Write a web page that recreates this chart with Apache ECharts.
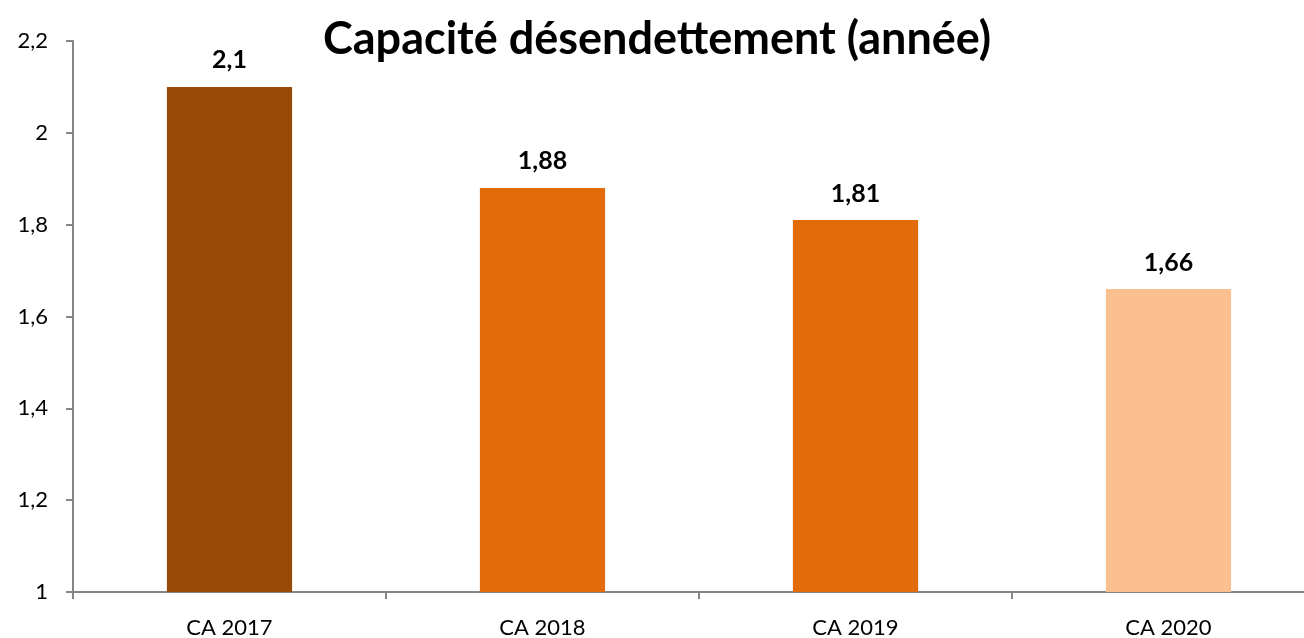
<!DOCTYPE html>
<html>
<head>
<meta charset="utf-8">
<script src="https://cdn.jsdelivr.net/npm/echarts@6/dist/echarts.min.js"></script>
<style>
  html, body { margin: 0; padding: 0; background: #fff; }
  #main { width: 1304px; height: 638px; }
</style>
</head>
<body>
<div id="main"></div>
<script>
var categories = ["CA 2017", "CA 2018", "CA 2019", "CA 2020"];
var values = [2.1, 1.88, 1.81, 1.66];
var barColors = ["#984807", "#E36C0A", "#E36C0A", "#FAC090"];

var font = "Lato, 'Open Sans', sans-serif";

var myChart = echarts.init(document.getElementById("main"));

var option = {
  animation: false,
  title: {
    text: "Capacité désendettement (année)",
    left: 318,
    top: 12,
    textStyle: { fontFamily: font, fontSize: 45, fontWeight: "bold", color: "#000" }
  },
  // the plot runs past the right edge of the picture, like the reference
  grid: { left: 73, width: 1252, top: 41, bottom: 46, outerBoundsMode: "none", containLabel: false },
  xAxis: {
    type: "category",
    data: categories,
    axisLine: { lineStyle: { color: "#868686", width: 2 } },
    axisTick: { show: true, length: 7, lineStyle: { color: "#868686", width: 2 } },
    axisLabel: { color: "#000", fontFamily: font, fontSize: 22, margin: 25 }
  },
  yAxis: {
    type: "value",
    min: 1,
    max: 2.2,
    interval: 0.2,
    splitLine: { show: false },
    axisLine: { show: true, lineStyle: { color: "#868686", width: 2 } },
    axisTick: { show: true, length: 7, lineStyle: { color: "#868686", width: 2 } },
    axisLabel: {
      color: "#000", fontFamily: font, fontSize: 22, margin: 25,
      formatter: function (v) { return String(Math.round(v * 10) / 10).replace(".", ","); }
    }
  },
  series: [{
    type: "bar",
    barWidth: "40%",
    data: values.map(function (v, i) {
      return { value: v, itemStyle: { color: barColors[i] } };
    }),
    label: {
      show: true,
      position: "top",
      distance: 14,
      color: "#000",
      fontFamily: font,
      fontSize: 25,
      fontWeight: "bold",
      formatter: function (p) { return String(p.value).replace(".", ","); }
    }
  }]
};

myChart.setOption(option, true);
</script>
</body>
</html>
